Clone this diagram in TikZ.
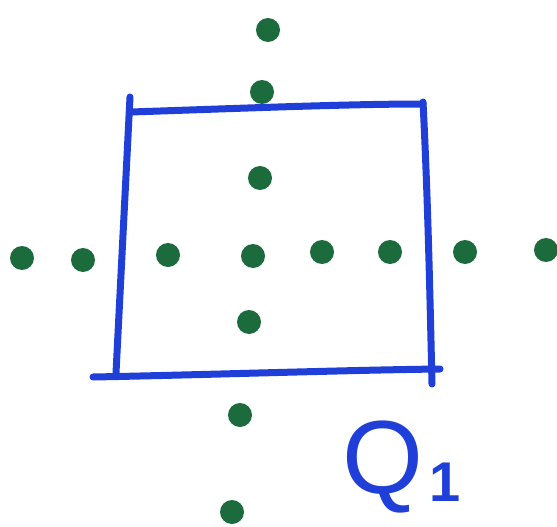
\documentclass[tikz,border=0pt]{standalone}
\usepackage{fontspec}
\setmainfont{Liberation Sans}
\definecolor{penblue}{HTML}{1F3FD8}
\definecolor{pengreen}{HTML}{1B6B3C}
\tikzset{
  edge/.style={draw=penblue, line width=7pt, line cap=round, line join=round},
  dot/.style={circle, fill=pengreen, minimum width=24pt, minimum height=22pt, inner sep=0pt},
  lbl/.style={text=penblue, inner sep=0pt}
}
\begin{document}
\begin{tikzpicture}[x=1pt,y=-1pt]
\useasboundingbox (0,0) rectangle (557,527);
% square corners
\coordinate (tl) at (130,97);
\coordinate (tlh) at (131,112);
\coordinate (tr) at (423,104);
\coordinate (trv) at (423,102);
\coordinate (br) at (432,384);
\coordinate (brh) at (440,369);
\coordinate (bl) at (93,377);
\coordinate (blv) at (116,373);
\draw[edge] (tl) -- (blv);
\draw[edge] (tlh) .. controls (250,108) and (350,104) .. (tr);
\draw[edge] (trv) .. controls (428,200) and (430,300) .. (br);
\draw[edge] (bl) .. controls (200,375) and (350,370) .. (brh);
% vertical column of dots
\node[dot] (v1) at (268,30) {};
\node[dot] (v2) at (262,92) {};
\node[dot] (v3) at (260,178) {};
\node[dot] (c) at (253,256) {};
\node[dot] (v5) at (249,322) {};
\node[dot] (v6) at (240,415) {};
\node[dot] (v7) at (232,512) {};
% horizontal row of dots
\node[dot] (h1) at (22,258) {};
\node[dot] (h2) at (83,260) {};
\node[dot] (h3) at (168,255) {};
\node[dot] (h5) at (322,252) {};
\node[dot] (h6) at (390,252) {};
\node[dot] (h7) at (465,252) {};
\node[dot] (h8) at (546,250) {};
% label
\node[lbl, anchor=base west, font=\fontsize{104}{104}\selectfont] (q) at (342,493) {Q\hspace{6pt}\raisebox{-8pt}{\fontsize{56}{56}\bfseries\selectfont 1}};
\end{tikzpicture}
\end{document}
